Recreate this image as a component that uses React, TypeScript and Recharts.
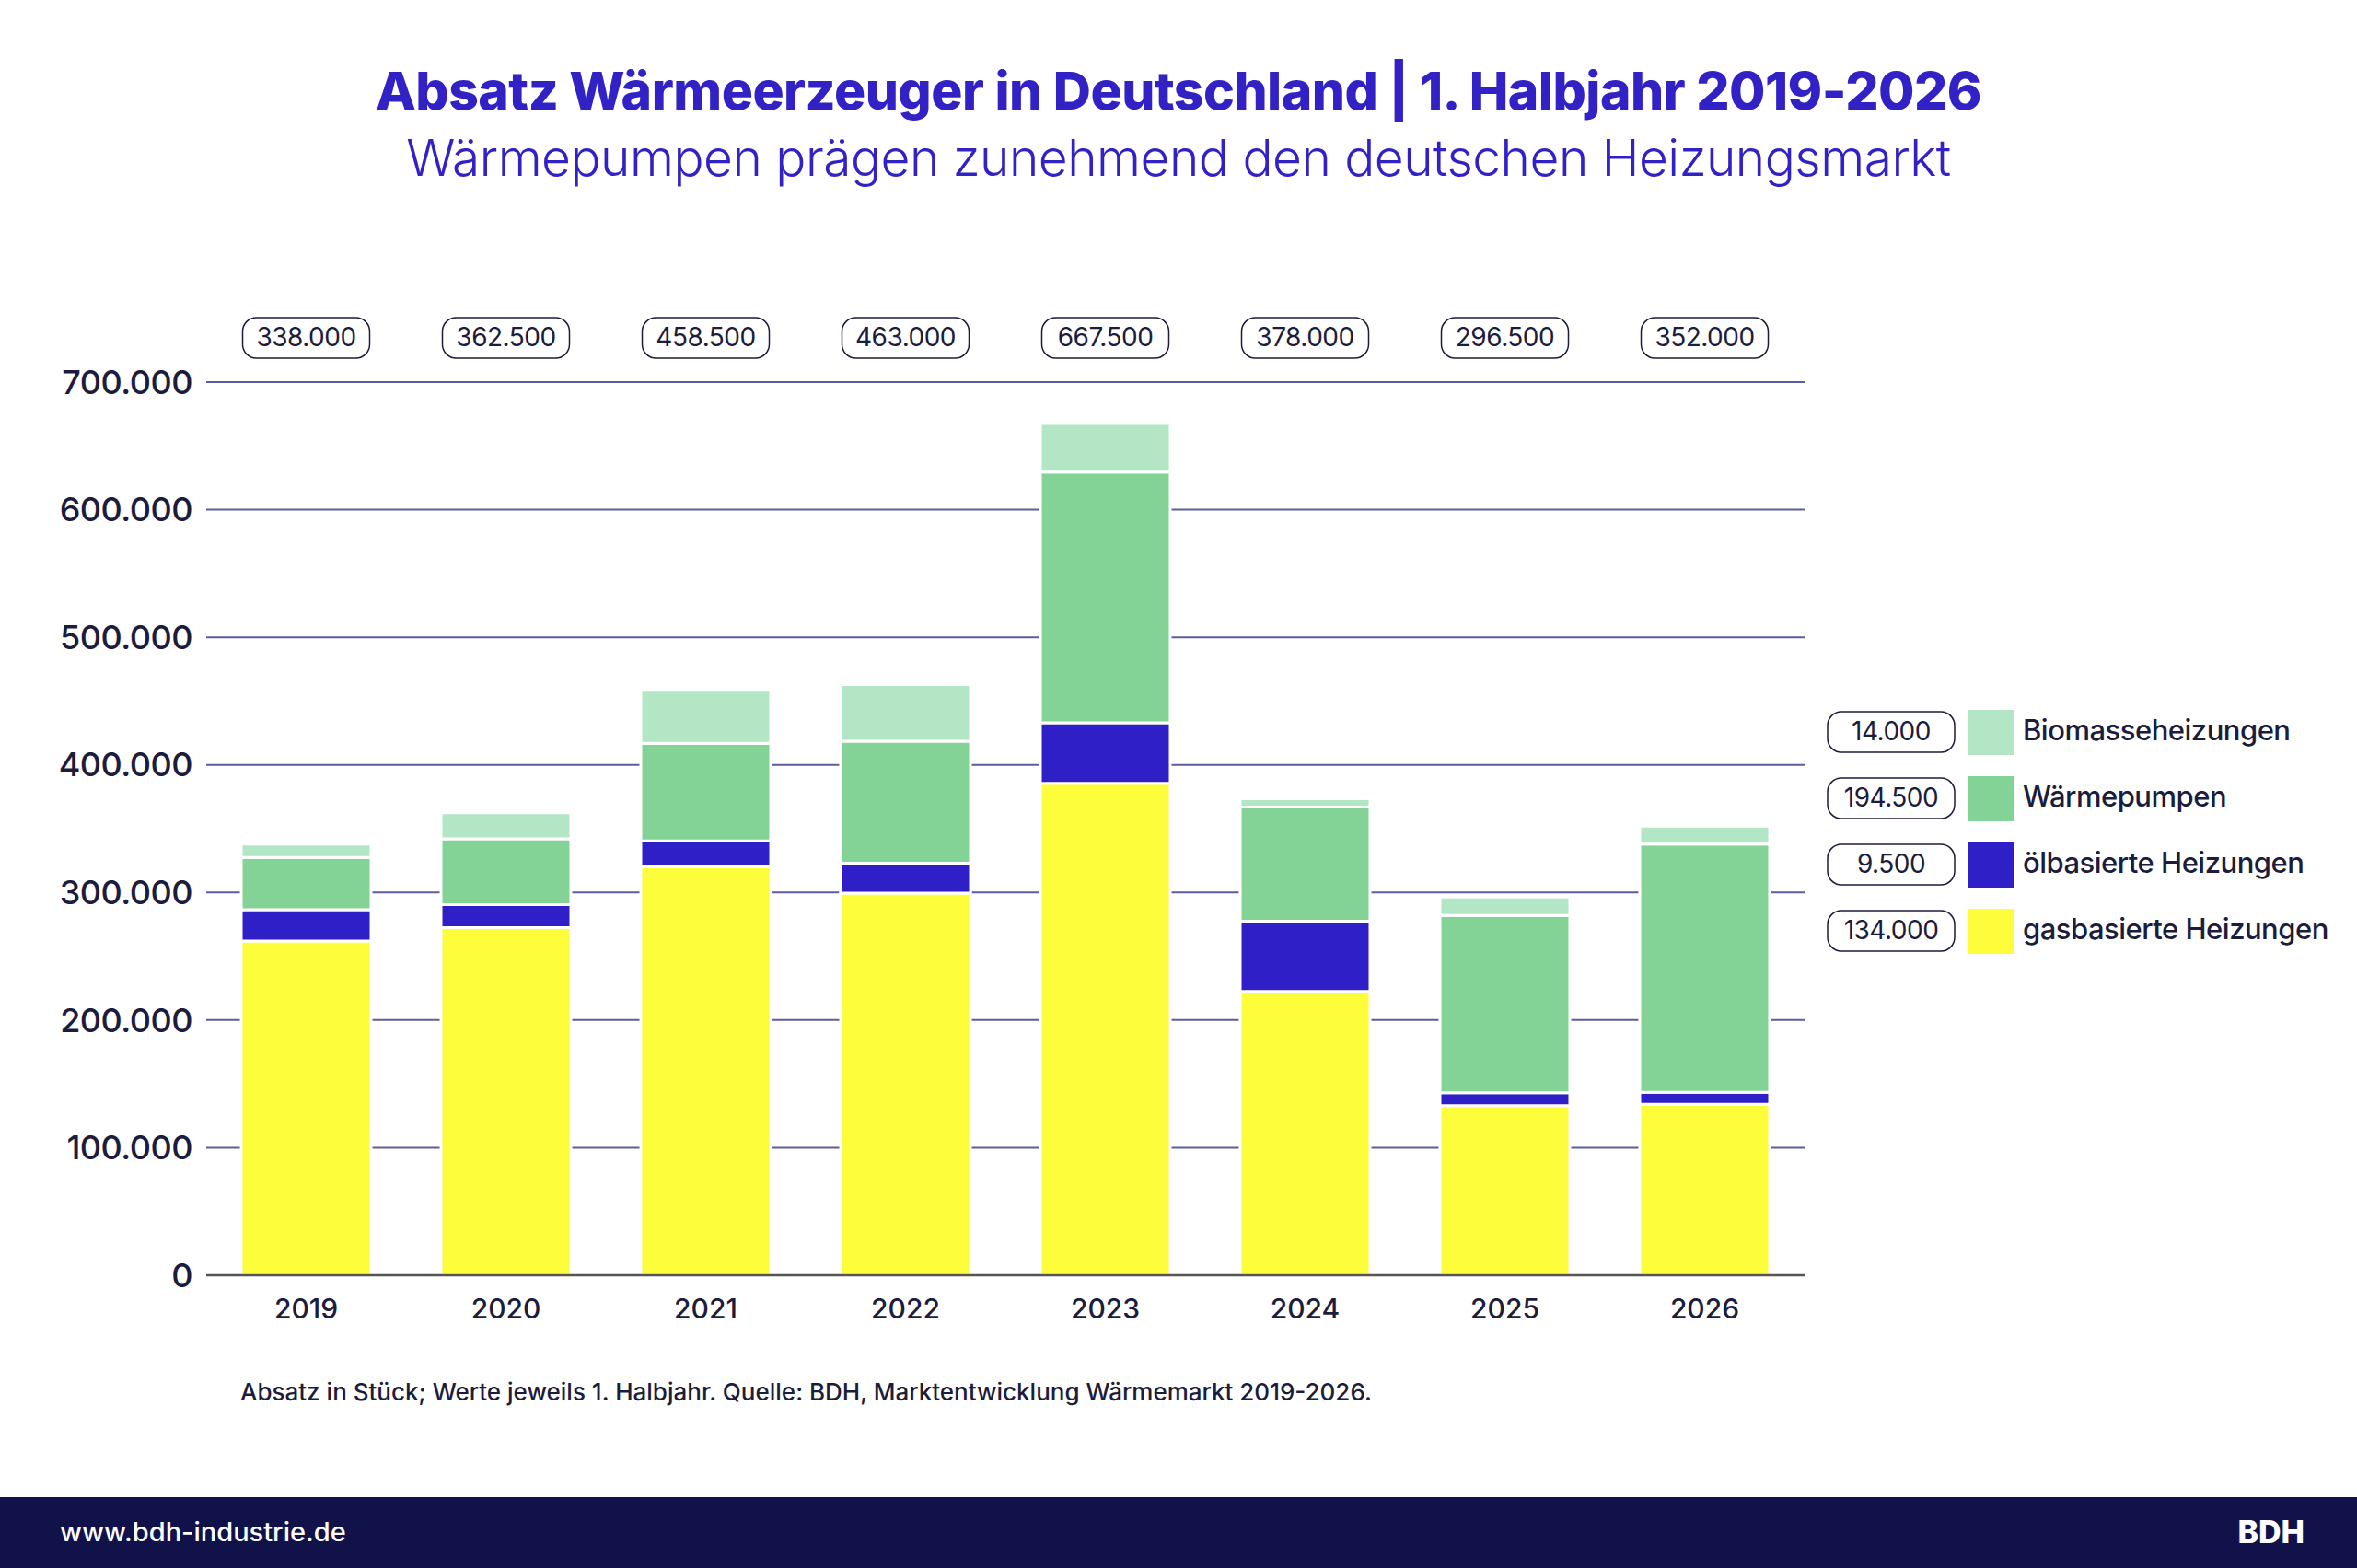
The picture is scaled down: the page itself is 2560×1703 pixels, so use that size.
import React from "react";
import { BarChart, Bar, XAxis, YAxis, CartesianGrid, Legend, LabelList, ReferenceLine } from "recharts";

const years = ["2019", "2020", "2021", "2022", "2023", "2024", "2025", "2026"];
const gas = [262000, 272500, 320000, 299500, 385500, 222500, 133000, 134000];
const oil = [24500, 18000, 20500, 23500, 47500, 55000, 10000, 9500];
const heatPumps = [41000, 51500, 76500, 95500, 196500, 89500, 139000, 194500];
const biomass = [10500, 20500, 41500, 44500, 38000, 6500, 14500, 14000];
const totals = [338000, 362500, 458500, 463000, 667500, 378000, 296500, 352000];
const yTicks = [0, 100000, 200000, 300000, 400000, 500000, 600000, 700000];

const seriesNames = {
  gas: "gasbasierte Heizungen",
  oil: "ölbasierte Heizungen",
  heatPumps: "Wärmepumpen",
  biomass: "Biomasseheizungen",
};
const legendOrder = ["biomass", "heatPumps", "oil", "gas"];

const colors = {
  gas: "#fdfd3c",
  oil: "#2e1fc6",
  heatPumps: "#84d396",
  biomass: "#b3e6c4",
  title: "#3222c6",
  text: "#1c1c3c",
  grid: "#5d5c9c",
  footer: "#11124a",
};

const FONT = "Inter, 'Noto Sans', sans-serif";

const data = years.map((year, i) => ({
  year,
  gas: gas[i],
  oil: oil[i],
  heatPumps: heatPumps[i],
  biomass: biomass[i],
  total: totals[i],
}));

// legend shows the values of the latest year
const last = years.length - 1;
const legendValues: Record<string, number> = {
  gas: gas[last],
  oil: oil[last],
  heatPumps: heatPumps[last],
  biomass: biomass[last],
};

const fmt = (v: number) => String(v).replace(/\B(?=(\d{3})+(?!\d))/g, ".");

const ValueBox = ({ cx, cy, value }: { cx: number; cy: number; value: number }) => (
  <g>
    <rect x={cx - 69} y={cy - 22} width={138} height={44} rx={15} fill="#fff" stroke={colors.text} strokeWidth={1.5} />
    <text x={cx} y={cy + 1} textAnchor="middle" dominantBaseline="middle" fontSize={28} fontFamily={FONT} fill={colors.text} letterSpacing={-0.5}>
      {fmt(value)}
    </text>
  </g>
);

const TotalLabel = (props: any) => {
  const { x, width, value } = props;
  return <ValueBox cx={x + width / 2} cy={367} value={value} />;
};

const LegendContent = (props: any) => {
  const payload = props.payload || [];
  const items = legendOrder.map((key) => payload.find((p: any) => p.dataKey === key)).filter(Boolean);
  return (
    <svg width={576} height={300}>
      {items.map((item: any, i: number) => {
        const cy = 25 + i * 72;
        return (
          <g key={item.dataKey}>
            <ValueBox cx={70} cy={cy} value={legendValues[item.dataKey]} />
            <rect x={154} y={cy - 24} width={49} height={49} fill={item.color} />
            <text x={213} y={cy + 1} dominantBaseline="middle" fontSize={31} fontWeight={500} fontFamily={FONT} fill={colors.text} letterSpacing={-0.5}>
              {item.value}
            </text>
          </g>
        );
      })}
    </svg>
  );
};

export default function App() {
  return (
    <div style={{ position: "absolute", left: 0, top: 0, width: 2560, height: 1703, background: "#fff", fontFamily: FONT, overflow: "hidden" }}>
      <div style={{ position: "absolute", top: 64, width: 2560, textAlign: "center", color: colors.title, fontSize: 57, fontWeight: 800, letterSpacing: -0.5 }}>
        Absatz Wärmeerzeuger in Deutschland | 1. Halbjahr 2019-2026
      </div>
      <div style={{ position: "absolute", top: 138, width: 2560, textAlign: "center", color: colors.title, fontSize: 55, fontWeight: 300, letterSpacing: -0.5 }}>
        Wärmepumpen prägen zunehmend den deutschen Heizungsmarkt
      </div>

      <div style={{ position: "absolute", left: 0, top: 0 }}>
        <BarChart width={2560} height={1703} data={data} margin={{ top: 415, right: 600, left: 24, bottom: 258 }}>
          <CartesianGrid vertical={false} stroke={colors.grid} strokeWidth={2} />
          <XAxis
            dataKey="year"
            axisLine={false}
            tickLine={false}
            height={60}
            tickMargin={20}
            tick={{ fontSize: 30, fontWeight: 500, fill: colors.text, fontFamily: FONT }}
          />
          <YAxis
            domain={[0, 700000]}
            ticks={yTicks}
            axisLine={false}
            tickLine={false}
            tickSize={0}
            tickMargin={15}
            width={200}
            tickFormatter={fmt}
            tick={{ fontSize: 36, fontWeight: 500, fill: colors.text, fontFamily: FONT, letterSpacing: -0.5 }}
          />
          <ReferenceLine y={0} stroke="#555" strokeWidth={2.5} />
          <Legend
            layout="vertical"
            verticalAlign="middle"
            align="center"
            content={LegendContent}
            wrapperStyle={{ position: "absolute", left: 1984, top: 770, width: 576 }}
          />
          <Bar dataKey="gas" name={seriesNames.gas} stackId="a" fill={colors.gas} stroke="#fff" strokeWidth={3} barSize={141} isAnimationActive={false} />
          <Bar dataKey="oil" name={seriesNames.oil} stackId="a" fill={colors.oil} stroke="#fff" strokeWidth={3} barSize={141} isAnimationActive={false} />
          <Bar dataKey="heatPumps" name={seriesNames.heatPumps} stackId="a" fill={colors.heatPumps} stroke="#fff" strokeWidth={3} barSize={141} isAnimationActive={false} />
          <Bar dataKey="biomass" name={seriesNames.biomass} stackId="a" fill={colors.biomass} stroke="#fff" strokeWidth={3} barSize={141} isAnimationActive={false}>
            <LabelList dataKey="total" content={TotalLabel} />
          </Bar>
        </BarChart>
      </div>

      <div style={{ position: "absolute", left: 261, top: 1496, fontSize: 26, fontWeight: 500, color: colors.text }}>
        Absatz in Stück; Werte jeweils 1. Halbjahr. Quelle: BDH, Marktentwicklung Wärmemarkt 2019-2026.
      </div>

      <div style={{ position: "absolute", left: 0, top: 1626, width: 2560, height: 77, background: colors.footer }}>
        <div style={{ position: "absolute", left: 65, top: 20, fontSize: 29, fontWeight: 500, color: "#fff" }}>www.bdh-industrie.de</div>
        <div style={{ position: "absolute", right: 57, top: 17, fontSize: 34, fontWeight: 800, color: "#fff" }}>BDH</div>
      </div>
    </div>
  );
}
